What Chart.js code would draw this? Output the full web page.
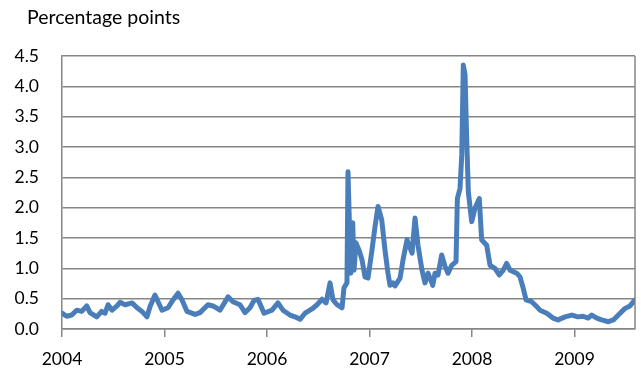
<!DOCTYPE html>
<html>
<head>
<meta charset="utf-8">
<script src="https://cdn.jsdelivr.net/npm/chart.js@4.4.1/dist/chart.umd.min.js"></script>
<style>
  html, body { margin: 0; padding: 0; background: #ffffff; }
  canvas { display: block; }
</style>
</head>
<body>
<canvas id="chart" width="641" height="375"></canvas>
<script>
// Observation dates as decimal years
const dates = [
  2004.000, 2004.046, 2004.095, 2004.143, 2004.192, 2004.241, 2004.273, 2004.339,
  2004.387, 2004.420, 2004.449, 2004.488, 2004.537, 2004.566, 2004.615, 2004.683,
  2004.732, 2004.780, 2004.829, 2004.859, 2004.907, 2004.937, 2004.976,
  2005.034, 2005.083, 2005.132, 2005.171, 2005.220, 2005.298, 2005.346, 2005.424,
  2005.473, 2005.541, 2005.620, 2005.668, 2005.737, 2005.785, 2005.834, 2005.873,
  2005.912, 2005.971,
  2006.049, 2006.107, 2006.156, 2006.224, 2006.273, 2006.322, 2006.371, 2006.439,
  2006.488, 2006.537, 2006.576, 2006.615, 2006.644, 2006.683, 2006.732, 2006.751,
  2006.780, 2006.790, 2006.817, 2006.836, 2006.849, 2006.868, 2006.898, 2006.927,
  2006.956, 2006.985,
  2007.024, 2007.054, 2007.083, 2007.119, 2007.151, 2007.180, 2007.200, 2007.229,
  2007.249, 2007.298, 2007.327, 2007.366, 2007.415, 2007.444, 2007.473, 2007.512,
  2007.541, 2007.571, 2007.597, 2007.617, 2007.639, 2007.668, 2007.704, 2007.737,
  2007.766, 2007.802, 2007.844, 2007.857, 2007.883, 2007.900, 2007.915, 2007.932,
  2007.948, 2007.964, 2007.997,
  2008.029, 2008.071, 2008.094, 2008.143, 2008.176, 2008.224, 2008.266, 2008.305,
  2008.338, 2008.371, 2008.436, 2008.468, 2008.500, 2008.527, 2008.582, 2008.631,
  2008.663, 2008.729, 2008.790, 2008.839, 2008.907, 2008.973,
  2009.034, 2009.083, 2009.132, 2009.168, 2009.217, 2009.265, 2009.330, 2009.379,
  2009.444, 2009.493, 2009.541, 2009.590
];

// Spread, percentage points
const spread = [
  0.26, 0.21, 0.23, 0.31, 0.29, 0.38, 0.27, 0.20,
  0.29, 0.26, 0.40, 0.31, 0.38, 0.44, 0.40, 0.43,
  0.35, 0.29, 0.20, 0.37, 0.56, 0.45, 0.31,
  0.35, 0.48, 0.59, 0.48, 0.29, 0.24, 0.27, 0.40,
  0.38, 0.31, 0.53, 0.45, 0.40, 0.27, 0.35, 0.47,
  0.49, 0.26,
  0.31, 0.43, 0.31, 0.23, 0.20, 0.16, 0.26, 0.33,
  0.40, 0.49, 0.43, 0.76, 0.48, 0.40, 0.35, 0.68,
  0.76, 2.59, 0.92, 1.75, 0.97, 1.42, 1.30, 1.14,
  0.86, 0.84,
  1.30, 1.69, 2.02, 1.80, 1.30, 0.92, 0.72, 0.76,
  0.71, 0.84, 1.14, 1.47, 1.25, 1.83, 1.38, 0.97,
  0.76, 0.92, 0.81, 0.72, 0.92, 0.89, 1.22, 1.03,
  0.92, 1.05, 1.11, 2.15, 2.32, 2.87, 4.35, 4.19,
  3.14, 2.26, 1.77,
  1.99, 2.15, 1.47, 1.38, 1.05, 1.00, 0.89, 0.97,
  1.08, 0.97, 0.92, 0.86, 0.67, 0.48, 0.45, 0.37,
  0.31, 0.26, 0.18, 0.15, 0.20, 0.23,
  0.20, 0.21, 0.18, 0.23, 0.18, 0.15, 0.12, 0.15,
  0.26, 0.34, 0.38, 0.48
];

const yearTicks = [2004, 2005, 2006, 2007, 2008, 2009];
const yTicks = [0, 0.5, 1, 1.5, 2, 2.5, 3, 3.5, 4, 4.5];
const unitLabel = 'Percentage points';

const GRID = '#868686';
const FONT = 'Lato, "Open Sans", sans-serif';

// Frame on the right side of the plot area and the unit label in the corner
const framePlugin = {
  id: 'frame',
  afterDraw(chart) {
    const { ctx, chartArea } = chart;
    ctx.save();
    ctx.strokeStyle = GRID;
    ctx.lineWidth = 1.5;
    ctx.beginPath();
    ctx.moveTo(chartArea.right, chartArea.top);
    ctx.lineTo(chartArea.right, chartArea.bottom);
    ctx.stroke();
    ctx.fillStyle = '#000000';
    ctx.font = '19.5px ' + FONT;
    ctx.textBaseline = 'alphabetic';
    ctx.textAlign = 'left';
    ctx.fillText(unitLabel, 27, 24);
    ctx.restore();
  }
};

new Chart(document.getElementById('chart'), {
  type: 'line',
  data: {
    datasets: [{
      data: dates.map((d, i) => ({ x: d, y: spread[i] })),
      borderColor: '#4a7ebb',
      borderWidth: 5,
      borderJoinStyle: 'round',
      borderCapStyle: 'round',
      pointRadius: 0,
      tension: 0,
      fill: false
    }]
  },
  options: {
    responsive: false,
    animation: false,
    devicePixelRatio: 1,
    layout: { padding: { top: 56, right: 6, left: 0, bottom: 0 } },
    plugins: { legend: { display: false }, tooltip: { enabled: false } },
    scales: {
      x: {
        type: 'linear',
        min: 2004,
        max: 2009.59,
        afterBuildTicks: s => { s.ticks = yearTicks.map(v => ({ value: v })); },
        afterFit: s => { s.height = 46; },
        grid: {
          drawOnChartArea: false,
          drawTicks: true,
          tickLength: 8,
          color: GRID,
          lineWidth: 1.5
        },
        border: { display: true, color: GRID, width: 1.5 },
        ticks: {
          padding: 12,
          maxRotation: 0,
          color: '#000000',
          font: { family: FONT, size: 17.5 },
          callback: v => String(v)
        }
      },
      y: {
        min: 0,
        max: 4.5,
        afterBuildTicks: s => { s.ticks = yTicks.map(v => ({ value: v })); },
        afterFit: s => { s.width = 62; },
        grid: {
          drawTicks: false,
          color: GRID,
          lineWidth: 1.5
        },
        border: { display: true, color: GRID, width: 1.5 },
        ticks: {
          padding: 23,
          color: '#000000',
          font: { family: FONT, size: 17.5 },
          callback: v => Number(v).toFixed(1)
        }
      }
    }
  },
  plugins: [framePlugin]
});
</script>
</body>
</html>
